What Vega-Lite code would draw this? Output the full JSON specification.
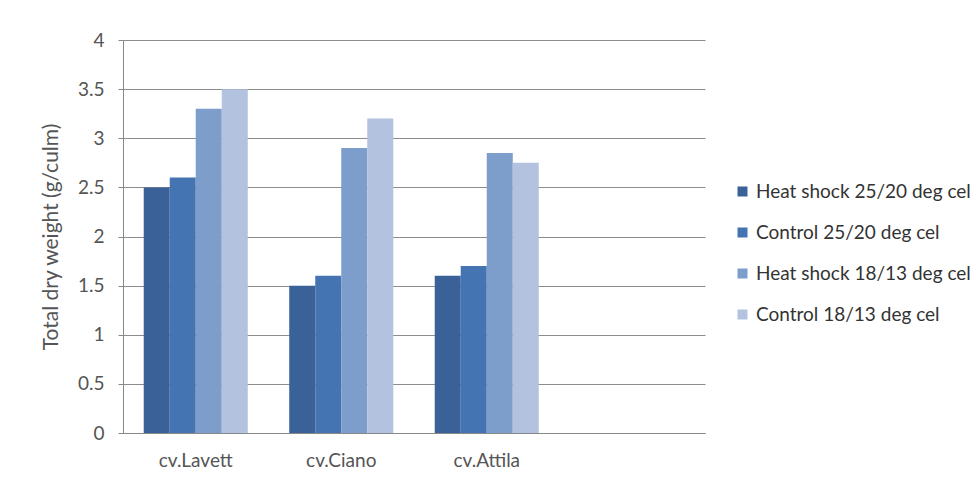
{
  "$schema": "https://vega.github.io/schema/vega-lite/v6.json",
  "width": 582,
  "height": 393,
  "autosize": {"type": "none"},
  "padding": {"left": 123, "top": 40, "right": 271, "bottom": 50},
  "background": "white",
  "data": {"values": [
    {"cultivar": "cv.Lavett", "series": "Heat shock 25/20 deg cel", "value": 2.5},
    {"cultivar": "cv.Lavett", "series": "Control 25/20 deg cel", "value": 2.6},
    {"cultivar": "cv.Lavett", "series": "Heat shock 18/13 deg cel", "value": 3.3},
    {"cultivar": "cv.Lavett", "series": "Control 18/13 deg cel", "value": 3.5},
    {"cultivar": "cv.Ciano", "series": "Heat shock 25/20 deg cel", "value": 1.5},
    {"cultivar": "cv.Ciano", "series": "Control 25/20 deg cel", "value": 1.6},
    {"cultivar": "cv.Ciano", "series": "Heat shock 18/13 deg cel", "value": 2.9},
    {"cultivar": "cv.Ciano", "series": "Control 18/13 deg cel", "value": 3.2},
    {"cultivar": "cv.Attila", "series": "Heat shock 25/20 deg cel", "value": 1.6},
    {"cultivar": "cv.Attila", "series": "Control 25/20 deg cel", "value": 1.7},
    {"cultivar": "cv.Attila", "series": "Heat shock 18/13 deg cel", "value": 2.85},
    {"cultivar": "cv.Attila", "series": "Control 18/13 deg cel", "value": 2.75}
  ]},
  "mark": {"type": "bar"},
  "encoding": {
    "x": {
      "field": "cultivar", "type": "nominal",
      "scale": {"domain": ["cv.Lavett", "cv.Ciano", "cv.Attila", " "], "paddingInner": 0.285, "paddingOuter": 0.1425},
      "axis": {"title": null, "labelAngle": 0, "ticks": false, "labelPadding": 18, "domainColor": "#888888", "labelFontSize": 19, "labelColor": "#555555", "grid": false}
    },
    "xOffset": {
      "field": "series", "type": "nominal",
      "sort": ["Heat shock 25/20 deg cel", "Control 25/20 deg cel", "Heat shock 18/13 deg cel", "Control 18/13 deg cel"],
      "scale": {"paddingInner": 0, "paddingOuter": 0}
    },
    "y": {
      "field": "value", "type": "quantitative",
      "scale": {"domain": [0, 4], "nice": false},
      "axis": {"title": "Total dry weight (g/culm)", "values": [0, 0.5, 1, 1.5, 2, 2.5, 3, 3.5, 4], "labelExpr": "datum.value", "tickSize": 5, "labelPadding": 14, "titlePadding": 16, "domainColor": "#888888", "tickColor": "#888888", "gridColor": "#8c8c8c", "labelFontSize": 19, "titleFontSize": 21, "titleFontWeight": "normal", "labelColor": "#555555", "titleColor": "#555555"}
    },
    "color": {
      "field": "series", "type": "nominal",
      "sort": ["Heat shock 25/20 deg cel", "Control 25/20 deg cel", "Heat shock 18/13 deg cel", "Control 18/13 deg cel"],
      "scale": {"range": ["#3a6198", "#4574b2", "#7d9dca", "#b2c2df"]},
      "legend": {"title": null, "orient": "none", "legendX": 610, "legendY": 142, "symbolType": "square", "symbolSize": 100, "symbolStrokeWidth": 0, "labelFontSize": 19, "labelColor": "#333333", "rowPadding": 21, "labelOffset": 4, "labelLimit": 0}
    }
  },
  "config": {
    "font": "Lato",
    "view": {"stroke": null},
    "axis": {"labelFont": "Lato", "titleFont": "Lato"},
    "legend": {"labelFont": "Lato"}
  }
}
